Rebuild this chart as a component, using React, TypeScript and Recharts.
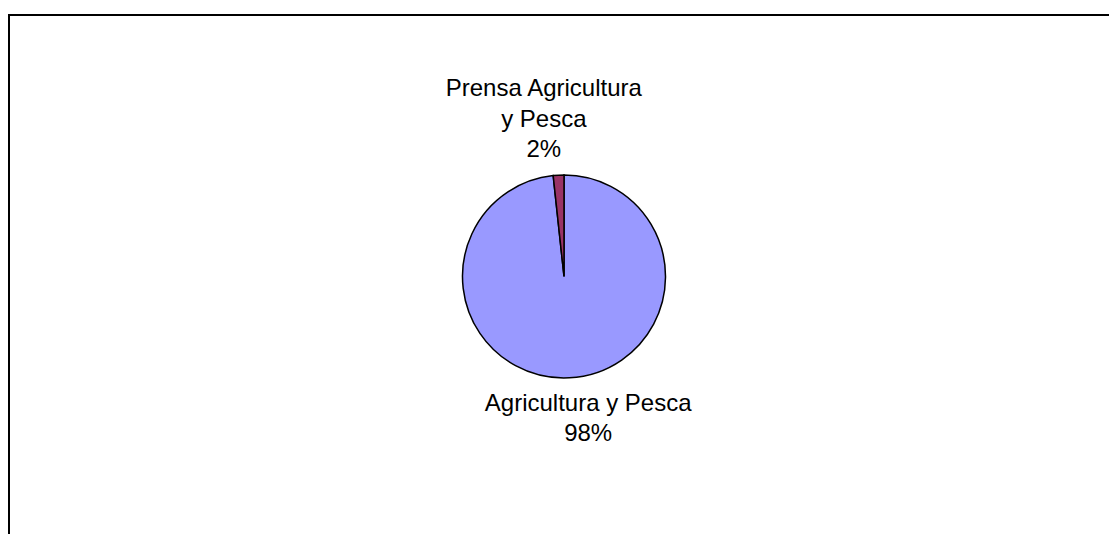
import { Cell, Pie, PieChart } from "recharts"

const categories = ["Agricultura y Pesca", "Prensa Agricultura y Pesca"]
const values = [98.3, 1.7]
const colors = ["#9999FF", "#993366"]

const data = categories.map((name, i) => ({ name, value: values[i] }))

const FONT = '"Liberation Sans", Arial, sans-serif'
const LINE_H = 30.5
// small horizontal nudges so labels sit where the original places them
const nudges = [18, -14]

const wrap = (text: string, max: number) => {
  const lines: string[] = []
  let cur = ""
  for (const w of text.split(" ")) {
    const next = cur ? cur + " " + w : w
    if (next.length > max && cur) {
      lines.push(cur)
      cur = w
    } else {
      cur = next
    }
  }
  if (cur) lines.push(cur)
  return lines
}

const renderLabel = (props: any) => {
  const { cx, cy, midAngle, outerRadius, percent, index, name } = props
  const rad = (Math.PI / 180) * midAngle
  const r = outerRadius + 14
  const px = cx + r * Math.cos(rad) + (nudges[index] ?? 0)
  const py = cy - r * Math.sin(rad)
  const lines = [...wrap(name, 19), `${Math.round(percent * 100)}%`]
  const above = Math.sin(rad) > 0
  const first = above ? py - 4 - (lines.length - 1) * LINE_H : py + 19
  return (
    <text x={px} y={first} textAnchor="middle" fill="#000" fontSize={24} fontFamily={FONT}>
      {lines.map((l, i) => (
        <tspan key={i} x={px} y={first + i * LINE_H}>
          {l}
        </tspan>
      ))}
    </text>
  )
}

const App = () => {
  return (
    <div style={{ position: "fixed", left: 0, top: 0, width: 1109, height: 534, overflow: "hidden", background: "#fff" }}>
      <div
        style={{
          position: "absolute",
          left: 8,
          top: 14,
          width: 1200,
          height: 600,
          borderTop: "2px solid #000",
          borderLeft: "2px solid #000",
        }}
      />
      <div style={{ position: "absolute", left: 0, top: 0 }}>
        <PieChart width={1109} height={534} margin={{ top: 0, right: 0, bottom: 0, left: 0 }}>
          <Pie
            data={data}
            dataKey="value"
            nameKey="name"
            cx={564}
            cy={276.5}
            outerRadius={101.5}
            startAngle={90}
            endAngle={-270}
            stroke="#000"
            strokeWidth={1.5}
            label={renderLabel}
            labelLine={false}
            isAnimationActive={false}
          >
            {data.map((d, i) => (
              <Cell key={d.name} fill={colors[i]} />
            ))}
          </Pie>
        </PieChart>
      </div>
    </div>
  )
}

export default App
